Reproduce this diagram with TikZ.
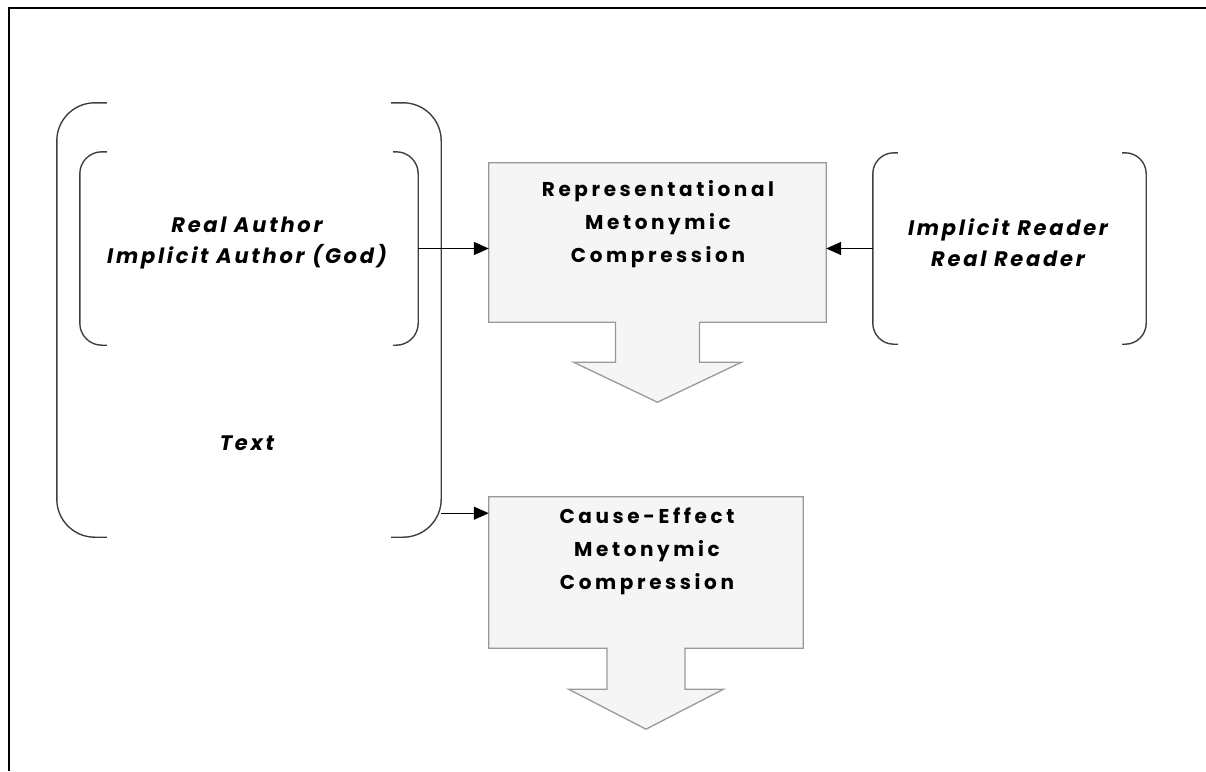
\documentclass[tikz,border=0pt]{standalone}
\usepackage{fontspec}
\setmainfont{Poppins}
\newfontfamily\boxfont[LetterSpace=18]{Poppins}
\newfontfamily\bracketfont[LetterSpace=13]{Poppins}
\usepackage{tikz}
\usetikzlibrary{positioning}
\usetikzlibrary{calc, arrows.meta}

\begin{document}
\begin{tikzpicture}[
    x=1pt, y=-1pt,
    region/.style={
        rectangle,
        inner sep=0pt
    },
    brk/.style={
        draw=black!75,
        line width=1.4pt
    },
    panel/.style={
        draw=black!40,
        fill=black!4,
        line width=1.3pt
    },
    boxtext/.style={
        align=center,
        font=\boxfont\bfseries\fontsize{20}{33}\selectfont
    },
    brktext/.style={
        align=center,
        font=\bracketfont\bfseries\itshape\fontsize{21}{31}\selectfont
    },
    feed/.style={
        -{Triangle[length=15pt, width=13pt]},
        line width=1.4pt
    }
]
\useasboundingbox (0,0) rectangle (1206,771);

% frame
\draw[line width=2pt] (9,771) -- (9,8) -- (1206,8);

% regions
\node[region, minimum width=384pt, minimum height=434pt] (text) at (249,320) {};
\node[region, minimum width=338pt, minimum height=193pt] (author) at (249,248.5) {};
\node[region, minimum width=273pt, minimum height=191pt] (reader) at (1009.5,248.5) {};

\node[brktext] (authorlbl) at (247,243) {Real Author\\Implicit Author (God)};
\node[brktext] (textlbl) at (247,443) {Text};
\node[brktext] (readerlbl) at (1008,243) {Implicit Reader\\Real Reader};

% brackets
\draw[brk, rounded corners=38pt] ($(text.north west)+(50,0)$) -- (text.north west) -- (text.south west) -- ($(text.south west)+(50,0)$);
\draw[brk, rounded corners=38pt] ($(text.north east)+(-50,0)$) -- (text.north east) -- (text.south east) -- ($(text.south east)+(-50,0)$);
\draw[brk, rounded corners=22pt] ($(author.north west)+(27,0)$) -- (author.north west) -- (author.south west) -- ($(author.south west)+(27,0)$);
\draw[brk, rounded corners=22pt] ($(author.north east)+(-25,0)$) -- (author.north east) -- (author.south east) -- ($(author.south east)+(-25,0)$);
\draw[brk, rounded corners=21pt] ($(reader.north west)+(25,0)$) -- (reader.north west) -- (reader.south west) -- ($(reader.south west)+(25,0)$);
\draw[brk, rounded corners=21pt] ($(reader.north east)+(-24,0)$) -- (reader.north east) -- (reader.south east) -- ($(reader.south east)+(-24,0)$);

% compression boxes
\node[region, minimum width=337pt, minimum height=159pt] (rep) at (657.5,242.5) {};
\node[region, minimum width=314pt, minimum height=151pt] (cause) at (646,572.5) {};

\draw[panel] (rep.north west) -- (rep.north east) -- (rep.south east)
    -- ($(rep.south)+(42,0)$) -- ($(rep.south)+(42,40)$) -- ($(rep.south)+(84,40)$)
    -- ($(rep.south)+(0,80)$)
    -- ($(rep.south)+(-84,40)$) -- ($(rep.south)+(-42,40)$) -- ($(rep.south)+(-42,0)$)
    -- (rep.south west) -- cycle;
\draw[panel] (cause.north west) -- (cause.north east) -- (cause.south east)
    -- ($(cause.south)+(39,0)$) -- ($(cause.south)+(39,41)$) -- ($(cause.south)+(77.5,41)$)
    -- ($(cause.south)+(0,81)$)
    -- ($(cause.south)+(-77.5,41)$) -- ($(cause.south)+(-39,41)$) -- ($(cause.south)+(-39,0)$)
    -- (cause.south west) -- cycle;

\node[boxtext] (replbl) at (658,224) {Representational\\Metonymic\\Compression};
\node[boxtext] (causelbl) at (647,551) {Cause-Effect\\Metonymic\\Compression};

% connectors
\coordinate (textout) at ($(text.south east)+(0,-24)$);
\draw[feed] (author.east) -- (author.east -| rep.west);
\draw[feed] (reader.west) -- (reader.west -| rep.east);
\draw[feed] (textout) -- (textout -| cause.west);

\end{tikzpicture}
\end{document}
